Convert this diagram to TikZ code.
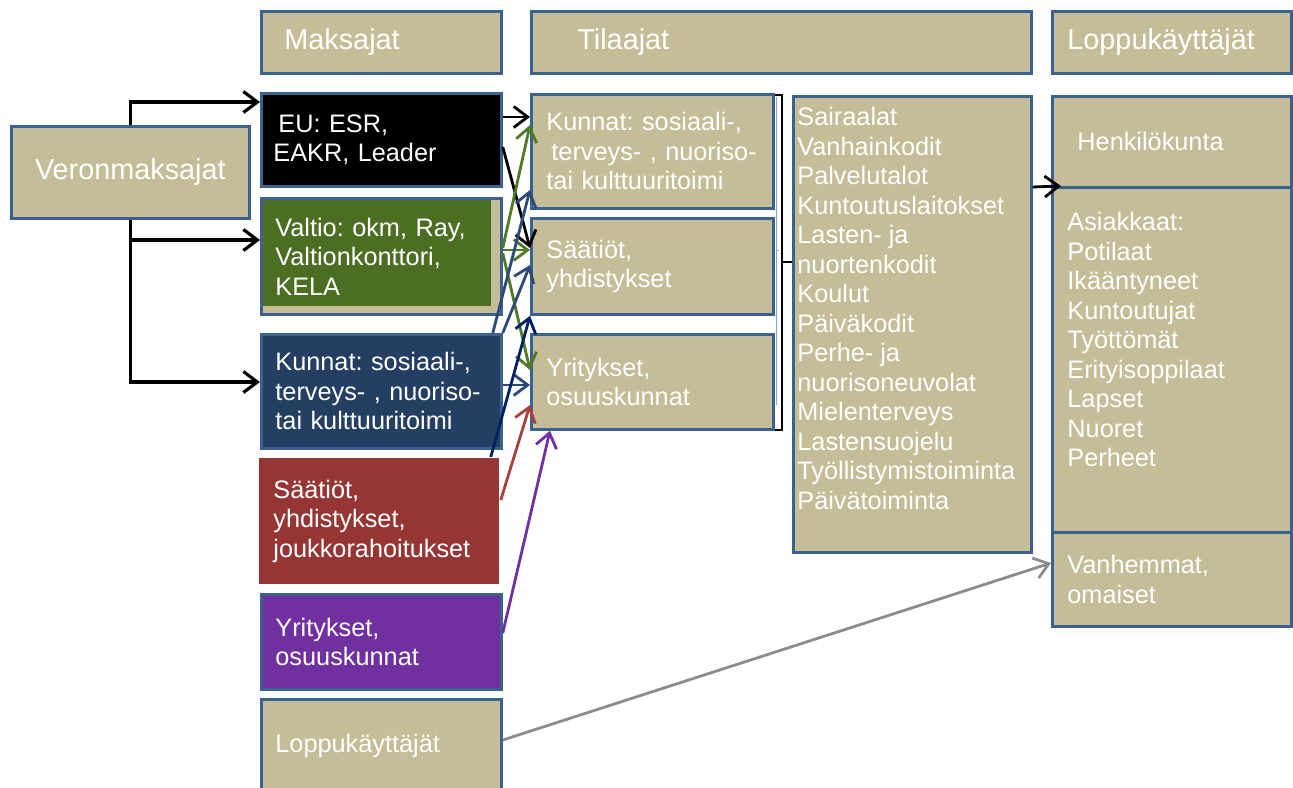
\documentclass[tikz,border=0pt]{standalone}
\usepackage{fontspec}
\setmainfont{Liberation Sans}
\usetikzlibrary{arrows.meta}
\definecolor{boxtan}{HTML}{C4BD97}
\definecolor{boxline}{HTML}{3B6190}
\definecolor{valtiogreen}{HTML}{4B6E23}
\definecolor{kuntanavy}{HTML}{253F62}
\definecolor{saatiored}{HTML}{963634}
\definecolor{yrityspurple}{HTML}{7030A0}
\definecolor{vihrea}{HTML}{4E7A25}
\definecolor{sininen}{HTML}{2C4A75}
\definecolor{tumma}{HTML}{002060}
\definecolor{punainen}{HTML}{A8403C}
\definecolor{harmaa}{HTML}{8C8C8C}
\definecolor{ohut}{HTML}{7FA6D6}
\newcommand{\tekstikoko}{\fontsize{14.4pt}{16.8pt}\selectfont}
\newcommand{\otsikkokoko}{\fontsize{16.4pt}{19pt}\selectfont}
\lefthyphenmin=62
\frenchspacing

\begin{document}
\begin{tikzpicture}[x=0.02cm, y=-0.02cm,
        box/.style={draw=boxline, line width=1.6pt, fill=boxtan, anchor=north west, text=white, align=left, inner ysep=0pt, font=\tekstikoko},
        hdr/.style={box, font=\otsikkokoko, minimum height=1.24cm},
        maks/.style={box, text width=4.24cm, inner xsep=0.28cm},
        tilaa/.style={box, text width=4.24cm, inner xsep=0.3cm},
        loppu/.style={box, text width=4.18cm, inner xsep=0.3cm},
        nuoli/.style={line width=1.6pt, -{Straight Barb[length=2.8mm,width=4.2mm]}},
    ]
    \useasboundingbox (0,0) rectangle (1293,787);
    \clip (0,0) rectangle (1293,787);

    % Otsikot
    \node[hdr, text width=3.88cm, inner xsep=0.46cm] (hmaks) at (260,10) {Maksajat};
    \node[hdr, text width=8.16cm, inner xsep=0.92cm] (htil) at (530,10) {Tilaajat};
    \node[hdr, text width=4.18cm, inner xsep=0.3cm] (hlop) at (1051,10) {Loppukäyttäjät};

    % Veronmaksajat
    \node[box, font=\otsikkokoko, align=center, minimum width=4.76cm, minimum height=1.84cm] (vero) at (10,125) {Veronmaksajat};

    % Maksajat
    \node[maks, fill=black, minimum height=1.86cm, text width=4.32cm, inner xsep=0.24cm] (eu) at (260,92) {\hspace*{0.1cm}EU: ESR,\\EAKR, Leader};
    \node[maks, minimum height=2.32cm, path picture={\fill[valtiogreen] (path picture bounding box.north west) rectangle ([xshift=-0.2cm, yshift=0.16cm]path picture bounding box.south east);}] (valtio) at (260,197) {Valtio: okm, Ray,\\Valtionkonttori,\\KELA};
    \node[maks, fill=kuntanavy, minimum height=2.28cm] (kunnat) at (260,333) {Kunnat: sosiaali-,\\terveys- , nuoriso-\\tai kulttuuritoimi};
    \node[maks, draw=none, fill=saatiored, minimum height=2.52cm] (saatiot) at (258,457) {Säätiöt,\\yhdistykset,\\joukkorahoitukset};
    \node[maks, fill=yrityspurple, minimum height=1.9cm] (yritys) at (260,593) {Yritykset,\\osuuskunnat};
    \node[maks, minimum height=1.86cm] (loppu) at (260,698) {Loppukäyttäjät};

    % Tilaajat
    \node[tilaa, minimum height=2.28cm] (kuntat) at (530,93) {Kunnat: sosiaali-,\\\hspace*{0.1cm}terveys- , nuoriso-\\tai kulttuuritoimi};
    \node[tilaa, minimum height=1.92cm] (saatiott) at (530,217) {Säätiöt,\\yhdistykset};
    \node[tilaa, minimum height=1.9cm] (yrityst) at (530,333) {Yritykset,\\osuuskunnat};

    % Palvelut
    \node[box, inner xsep=0.08cm, inner ysep=0.22cm] (palv) at (792,95) {\parbox[c][8.68cm][t]{4.6cm}{\raggedright
        Sairaalat\\Vanhainkodit\\Palvelutalot\\Kuntoutuslaitokset\\Lasten- ja\\nuortenkodit\\Koulut\\Päiväkodit\\Perhe- ja\\nuorisoneuvolat\\Mielenterveys\\Lastensuojelu\\Työllistymistoiminta\\Päivätoiminta}};

    % Loppukäyttäjät
    \node[box, text width=3.78cm, inner xsep=0.5cm, minimum height=1.82cm] (henk) at (1051,95) {Henkilökunta};
    \node[box, inner xsep=0.3cm, inner ysep=0.5cm] (asiak) at (1051,186) {\parbox[c][5.9cm][t]{4.18cm}{\raggedright
        Asiakkaat:\\Potilaat\\Ikääntyneet\\Kuntoutujat\\Työttömät\\Erityisoppilaat\\Lapset\\Nuoret\\Perheet}};
    \node[loppu, minimum height=1.88cm] (vanh) at (1051,531) {Vanhemmat,\\omaiset};

    % hakasulje
    \draw[line width=0.4pt, draw=ohut] (776,97) -- (776,405) (776,250) -- (779,250);
    \draw[line width=1.2pt] ([yshift=-0.04cm]kuntat.north east) -| (782,262) |- ([yshift=0.02cm]yrityst.south east);
    \draw[line width=1.2pt] (782,262) -- (palv.west |- 0,262);

    % nuolet
    \draw[nuoli, line width=1.8pt] (vero.north) |- ([yshift=-0.2cm]eu.north west);
    \draw[nuoli, line width=1.8pt] (vero.south) |- (valtio.west |- 0,240);
    \draw[nuoli, line width=1.8pt] (vero.south) |- (kunnat.west |- 0,382);
    \draw[nuoli] (eu.east |- 0,117) -- (kuntat.west |- 0,117);
    \draw[nuoli] (eu.east |- 0,147) -- (saatiott.west |- 0,248);
    \draw[nuoli, draw=vihrea] (valtio.east |- 0,248) -- (kuntat.west |- 0,125);
    \draw[nuoli, draw=vihrea] (valtio.east |- 0,250) -- (saatiott.west |- 0,250);
    \draw[nuoli, draw=vihrea] (valtio.east |- 0,253) -- (yrityst.west |- 0,370);
    \draw[nuoli, draw=sininen] ([xshift=-0.2cm]kunnat.north east) -- (kuntat.west |- 0,190);
    \draw[nuoli, draw=sininen] (kunnat.north east) -- (saatiott.west |- 0,265);
    \draw[nuoli, draw=sininen] (kunnat.east |- 0,385) -- (yrityst.west |- 0,385);
    \draw[nuoli, draw=tumma] ([xshift=-0.2cm]saatiot.north east) -- (saatiott.south west);
    \draw[nuoli, draw=punainen] (saatiot.east |- 0,500) -- (yrityst.west |- 0,405);
    \draw[nuoli, draw=yrityspurple] (yritys.east |- 0,633) -- ([xshift=0.4cm]yrityst.south west);
    \draw[nuoli, draw=harmaa] (loppu.east |- 0,740) -- (vanh.west |- 0,563);
    \draw[nuoli] (palv.east |- 0,187) -- ([xshift=0.2cm]asiak.north west);
\end{tikzpicture}
\end{document}
